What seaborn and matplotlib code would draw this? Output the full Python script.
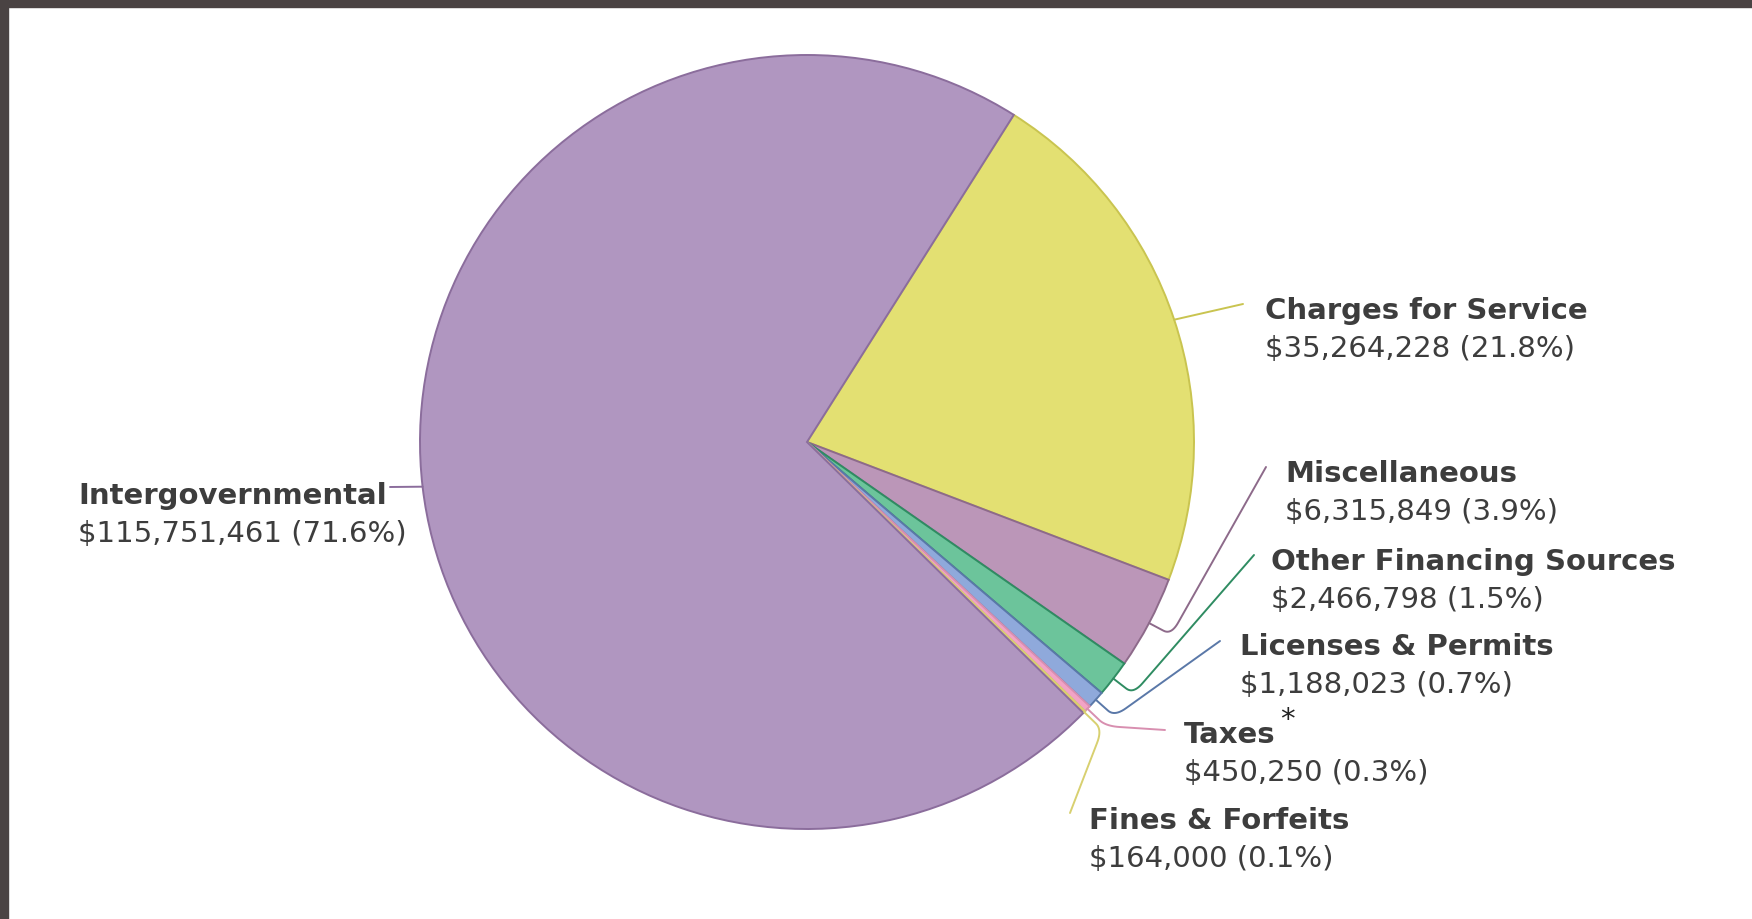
import numpy as np
import matplotlib
matplotlib.use('Agg')
import matplotlib.pyplot as plt
from matplotlib.patches import Rectangle
import seaborn as sns

sns.set_theme(style='white')
plt.rcParams['font.family'] = ['DejaVu Sans']

# donnees (ordre des tranches dans le sens horaire)
categories = ['Charges for Service', 'Miscellaneous', 'Other Financing Sources',
              'Licenses & Permits', 'Taxes', 'Fines & Forfeits', 'Intergovernmental']
montants = [35264228, 6315849, 2466798, 1188023, 450250, 164000, 115751461]

couleurs = ['#e3e072', '#bb96b8', '#6cc49b', '#8fa9db', '#f2a3c6', '#f0c75a', '#b096c0']
bordures = ['#c9c450', '#8d6a8a', '#2f8c62', '#5a78a8', '#d88fb0', '#d8d070', '#8b6d9c']

# position des etiquettes (pixels, y depuis le haut)
pos_labels = [(1265, 311), (1285, 474), (1271, 562), (1240, 647), (1184, 735), (1089, 821), (78, 496)]
fin_lignes = [(1243, 304), (1266, 467), (1254, 555), (1220, 641), (1165, 730), (1070, 813), (390, 487)]

W, H = 1752, 919
fig = plt.figure(figsize=(W / 100, H / 100), dpi=100)
ax = fig.add_axes([0, 0, 1, 1])

cx, cy, r = 807, H - 442, 387
wedges, _ = ax.pie(montants, colors=couleurs, startangle=57.7, counterclock=False,
                   center=(cx, cy), radius=r, frame=True,
                   wedgeprops=dict(linewidth=1.4))
for w, ec in zip(wedges, bordures):
    w.set_edgecolor(ec)
ax.set_xlim(0, W)
ax.set_ylim(0, H)
ax.axis('off')


def coude(p0, p1, p2, n=12, frac=0.35):
    # ligne brisee avec un coin arrondi
    p0, p1, p2 = map(np.array, (p0, p1, p2))
    a = p1 + (p0 - p1) * frac
    b = p1 + (p2 - p1) * min(frac, 14 / np.linalg.norm(p2 - p1))
    t = np.linspace(0, 1, n)[:, None]
    courbe = (1 - t) ** 2 * a + 2 * (1 - t) * t * p1 + t ** 2 * b
    pts = np.vstack([p0, courbe, p2])
    return pts[:, 0], pts[:, 1]


total = sum(montants)
gris = '#3d3d3d'
for i, (w, nom, val) in enumerate(zip(wedges, categories, montants)):
    mid = np.deg2rad((w.theta1 + w.theta2) / 2)
    ax0 = cx + r * np.cos(mid)
    ay0 = cy + r * np.sin(mid)
    ex, ey = fin_lignes[i]
    ey = H - ey
    if nom in ('Charges for Service', 'Intergovernmental'):
        xs, ys = [ax0, ex], [ay0, ey]
    else:
        kx = cx + r * 1.065 * np.cos(mid)
        ky = cy + r * 1.065 * np.sin(mid)
        xs, ys = coude((ax0, ay0), (kx, ky), (ex, ey))
    ax.plot(xs, ys, color=bordures[i], lw=1.4, solid_joinstyle='round', zorder=1)

    lx, ly = pos_labels[i]
    ax.text(lx, H - ly, nom, fontsize=21, fontweight='bold', color=gris,
            ha='left', va='center', zorder=3)
    ax.text(lx, H - ly - 38, f'${val:,} ({val / total * 100:.1f}%)', fontsize=21,
            color=gris, ha='left', va='center', zorder=3)

ax.text(1280, H - 720, '*', fontsize=21, color='#222222', ha='left', va='center')

# cadre sombre (haut et gauche)
fig.patches.append(Rectangle((0, 1 - 7 / H), 1, 7 / H, transform=fig.transFigure,
                             color='#4a4343', zorder=10))
fig.patches.append(Rectangle((0, 0), 8 / W, 1, transform=fig.transFigure,
                             color='#4a4343', zorder=10))

fig.savefig('out.png', dpi=100)
